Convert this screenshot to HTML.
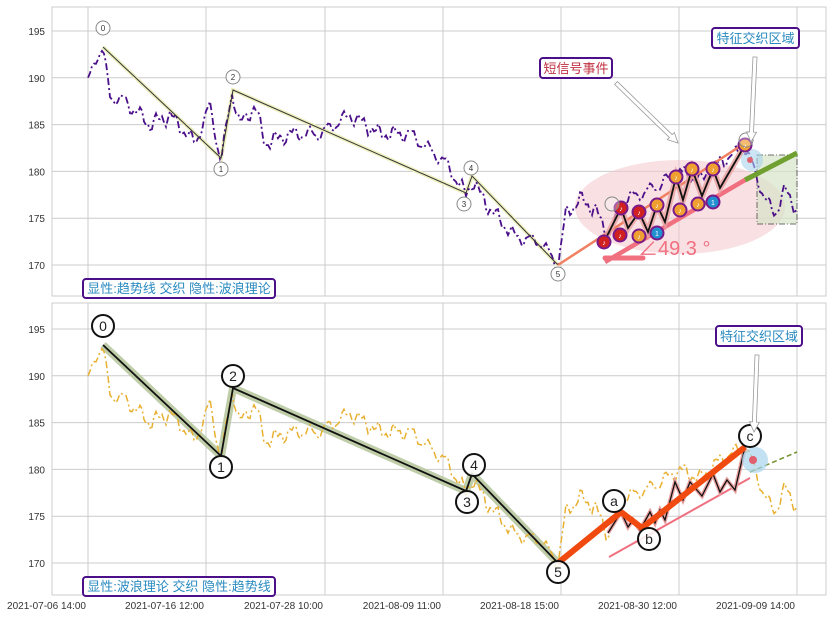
<!DOCTYPE html>
<html><head><meta charset="utf-8"><style>
body{margin:0;background:#fff;width:839px;height:617px;overflow:hidden}
svg{display:block;font-family:"Liberation Sans","Noto Sans CJK SC",sans-serif}
</style></head><body>
<svg id="s" width="839" height="617" xmlns="http://www.w3.org/2000/svg">
<defs>
<clipPath id="c1"><rect x="52" y="7" width="774" height="289"/></clipPath>
<clipPath id="c2"><rect x="52" y="303" width="774" height="292"/></clipPath>
</defs>
<g id="grid"></g>
<ellipse cx="680" cy="207" rx="105" ry="47" fill="#f2c6cc" opacity="0.55"/>
<rect x="757" y="155" width="40" height="69" fill="#d8e4c8" opacity="0.7" stroke="#333" stroke-dasharray="6,2,1,2"/>
<g id="p1" clip-path="url(#c1)"></g>
<g id="p2" clip-path="url(#c2)"></g>
<g id="over"></g>
</svg>
<script>
var NS="http://www.w3.org/2000/svg",S=document.getElementById('s');
function el(p,t,a,txt){var e=document.createElementNS(NS,t);for(var k in a)e.setAttribute(k,a[k]);if(txt!=null)e.textContent=txt;(p||S).appendChild(e);return e;}
var G=document.getElementById('grid'),O=document.getElementById('over');
var xs=[88,206,325,443,561,679,797],xl=['2021-07-06 14:00','2021-07-16 12:00','2021-07-28 10:00','2021-08-09 11:00','2021-08-18 15:00','2021-08-30 12:00','2021-09-09 14:00'];
[[7,296,0],[303,595,298]].forEach(function(b){
 el(G,'rect',{x:52,y:b[0],width:774,height:b[1]-b[0],fill:'#fff',stroke:'#ccc'});
 xs.forEach(function(x){el(G,'line',{x1:x,x2:x,y1:b[0],y2:b[1],stroke:'#ccc'});});
 [195,190,185,180,175,170].forEach(function(p){var y=31+(195-p)*9.36+b[2];
  el(G,'line',{x1:52,x2:826,y1:y,y2:y,stroke:'#ccc'});
  el(G,'text',{x:45,y:y+4,'text-anchor':'end','font-size':10,fill:'#333'},p);});
});
xs.forEach(function(x,i){el(G,'text',{x:x-2,y:609,'text-anchor':'end','font-size':10,fill:'#333'},xl[i]);});
var K=[[88,189.5],[97,192.5],[103,193],[110,188],[125,187.5],[150,185],[170,186],[195,183],[210,187],[221,181],[232,188.5],[240,185],[255,187],[265,183],[290,184],[320,184],[350,186],[380,184],[410,184],[445,181],[466,177.5],[472,179],[490,176],[515,173],[540,172.5],[558,170],[566,175.5],[580,177],[595,176],[608,173],[625,177],[650,178],[680,180],[700,179],[720,181],[745,182.5],[755,180],[765,177],[775,175.5],[785,178],[797,176]];
function P(x){for(var i=0;i<K.length-1;i++)if(x<=K[i+1][0]){var t=(x-K[i][0])/(K[i+1][0]-K[i][0]);return K[i][1]+t*(K[i+1][1]-K[i][1]);}return K[K.length-1][1];}
var pts1=[],pts2=[];
for(var x=88;x<=797;x+=2){var n=Math.sin(x*0.9)*0.3+Math.sin(x*0.37)*0.6+Math.sin(x*2.3)*0.15;var p=P(x)+n;var y=31+(195-p)*9.36;pts1.push(x+','+y.toFixed(1));pts2.push(x+','+(y+298).toFixed(1));}
var P1=document.getElementById('p1'),P2=document.getElementById('p2');
var W1=[[103,47],[221,158],[233,90],[466,193],[472,176],[558,265]];
var wstr=W1.map(function(a){return a.join(',')}).join(' ');
el(P1,'polyline',{points:wstr,fill:'none',stroke:'#eef0c0','stroke-width':4});
el(P1,'polyline',{points:pts1.join(' '),fill:'none',stroke:'#4b0f8a','stroke-width':1.8,'stroke-dasharray':'7,3,2,3'});
el(P1,'polyline',{points:wstr,fill:'none',stroke:'#333','stroke-width':1});
el(P1,'line',{x1:558,y1:265,x2:745,y2:143,stroke:'#f08060','stroke-width':2.5});
el(P1,'line',{x1:605,y1:262,x2:745,y2:180,stroke:'#f07080','stroke-width':4.5});
el(P1,'line',{x1:745,y1:180,x2:797,y2:153,stroke:'#70a030','stroke-width':5});
var z1='604,242 621,208 628,228 639,212 648,232 657,205 665,222 676,177 683,200 692,169 702,196 713,169 720,188 745,145';
el(P1,'polyline',{points:z1,fill:'none',stroke:'#e8a0a0','stroke-width':6,opacity:0.8});
el(P1,'polyline',{points:z1,fill:'none',stroke:'#111','stroke-width':1.8});
el(P1,'line',{x1:605,y1:258,x2:643,y2:258,stroke:'#f07080','stroke-width':5,'stroke-linecap':'round'});
el(P1,'circle',{cx:752,cy:160,r:11,fill:'#a8d4ee',opacity:0.6});
el(P1,'circle',{cx:750,cy:160,r:3,fill:'#e06070'});
[[604,242,'#d02020'],[621,208,'#d02020'],[620,235,'#d02020'],[639,212,'#d02020'],[639,236,'#f0a030'],[657,205,'#f0a030'],[676,177,'#f0a030'],[692,169,'#f0a030'],[713,169,'#f0a030'],[680,210,'#f0a030'],[698,204,'#f0a030'],[745,145,'#f0a030'],[657,233,'#2090d0'],[713,202,'#2090d0']].forEach(function(b){
 el(P1,'circle',{cx:b[0],cy:b[1],r:6.5,fill:b[2],stroke:'#7a1a8a','stroke-width':2});
 el(P1,'text',{x:b[0],y:b[1]+3,'text-anchor':'middle','font-size':7,fill:'#fff'},b[2]=='#2090d0'?'1':'♪');});
el(P1,'text',{x:638,y:255,'font-size':20,fill:'#f07080'},'∠49.3 °');
[['0',103,28],['1',221,169],['2',233,77],['3',464,204],['4',471,168],['5',558,274],['',612,204],['',746,140]].forEach(function(c){
 el(P1,'circle',{cx:c[1],cy:c[2],r:7,fill:'#fff',stroke:'#888','fill-opacity':c[0]?1:0.3});
 el(P1,'text',{x:c[1],y:c[2]+3,'text-anchor':'middle','font-size':8,fill:'#333'},c[0]);});
var W2=W1.map(function(a){return [a[0],a[1]+298]});var w2=W2.map(function(a){return a.join(',')}).join(' ');
el(P2,'polyline',{points:w2,fill:'none',stroke:'#b8c8a0','stroke-width':8,'stroke-linejoin':'round',opacity:0.9});
el(P2,'polyline',{points:pts2.join(' '),fill:'none',stroke:'#e8b030','stroke-width':1.5,'stroke-dasharray':'7,3,2,3'});
el(P2,'polyline',{points:w2,fill:'none',stroke:'#111','stroke-width':1.8});
el(P2,'line',{x1:609,y1:557,x2:750,y2:478,stroke:'#f07080','stroke-width':2});
el(P2,'line',{x1:750,y1:472,x2:797,y2:452,stroke:'#70902a','stroke-width':1.5,'stroke-dasharray':'5,3'});
var zz='608,533 621,512 628,527 633,520 640,530 650,512 655,523 660,510 665,520 675,482 683,500 690,482 702,496 713,474 720,492 727,480 735,490 745,447';
el(P2,'polyline',{points:zz,fill:'none',stroke:'#e8a0a0','stroke-width':4});
el(P2,'polyline',{points:zz,fill:'none',stroke:'#111','stroke-width':1.3});
el(P2,'polyline',{points:'558,563 621,512 642,528 745,447',fill:'none',stroke:'#f04a10','stroke-width':6,'stroke-linejoin':'round'});
el(P2,'circle',{cx:755,cy:460,r:13,fill:'#a8d4ee',opacity:0.7});
el(P2,'circle',{cx:753,cy:460,r:4,fill:'#e06070'});
[['0',103,326],['1',221,467],['2',233,376],['3',467,502],['4',474,465],['5',558,572],['a',614,501],['b',649,539],['c',750,436]].forEach(function(c){
 el(P2,'circle',{cx:c[1],cy:c[2],r:11,fill:'#fff',stroke:'#111','stroke-width':2,'fill-opacity':0.85});
 el(P2,'text',{x:c[1],y:c[2]+5,'text-anchor':'middle','font-size':14,fill:'#222'},c[0]);});
function arrow(x1,y1,x2,y2){var dx=x2-x1,dy=y2-y1,L=Math.sqrt(dx*dx+dy*dy),ux=dx/L,uy=dy/L,nx=-uy,ny=ux,w=2,h=5,hl=10;
 var bx=x2-ux*hl,by=y2-uy*hl;
 var p=[[x1+nx*w,y1+ny*w],[bx+nx*w,by+ny*w],[bx+nx*h,by+ny*h],[x2,y2],[bx-nx*h,by-ny*h],[bx-nx*w,by-ny*w],[x1-nx*w,y1-ny*w]];
 el(O,'polygon',{points:p.map(function(a){return a[0].toFixed(1)+','+a[1].toFixed(1)}).join(' '),fill:'#fff',stroke:'#999','stroke-width':0.8});}
arrow(616,83,678,143);arrow(755,57,751,142);arrow(757,355,754,432);
function box(x,y,w,h,t,c){el(O,'rect',{x:x,y:y,width:w,height:h,rx:3,fill:'#fff',stroke:'#4b0f8a','stroke-width':2});el(O,'text',{x:x+w/2,y:y+h-5,'text-anchor':'middle','font-size':13,fill:c},t);}
box(540,58,72,20,'短信号事件','#c03040');
box(712,28,87,20,'特征交织区域','#2a8ac0');
box(716,326,86,20,'特征交织区域','#2a8ac0');
box(83,279,192,19,'显性:趋势线 交织 隐性:波浪理论','#2a8ac0');
box(83,577,192,19,'显性:波浪理论 交织 隐性:趋势线','#2a8ac0');
</script>
</body></html>
